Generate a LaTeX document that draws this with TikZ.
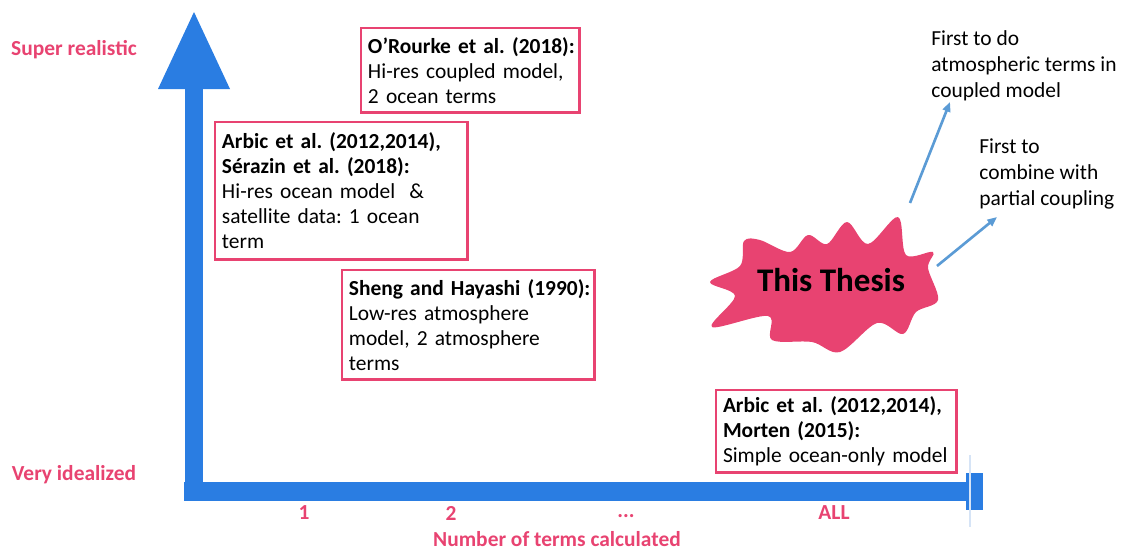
\documentclass[tikz,border=0pt]{standalone}
\usepackage{fontspec}
\setmainfont{Carlito}
\usepackage{xcolor}
\definecolor{thpink}{RGB}{232,67,113}
\definecolor{thblue}{RGB}{42,125,226}
\definecolor{thlightblue}{RGB}{91,155,213}
\definecolor{thfaint}{RGB}{214,228,246}
\usetikzlibrary{arrows.meta, positioning}

\newcommand{\boxfont}{\fontsize{12.2}{14.2}\selectfont}
\newcommand{\notefont}{\fontsize{12.2}{14.8}\selectfont}
\tikzset{
  refbox/.style={draw=thpink, line width=1.7pt, fill=white, anchor=north west,
    align=left, inner xsep=0.14cm, inner ysep=0pt, font=\boxfont,
    execute at begin node=\frenchspacing},
  axislabel/.style={text=thpink, font=\fontsize{12.2}{14}\selectfont\bfseries, inner sep=0pt},
  notetext/.style={anchor=north west, align=left, inner sep=0pt, font=\notefont},
  pointer/.style={-{Triangle[length=5.5pt,width=4.5pt]}, thlightblue, line width=1.5pt},
}

\begin{document}
\begin{tikzpicture}[x=0.02cm, y=-0.02cm]
  \useasboundingbox (0,0) rectangle (1129,551);

  % axes
  \fill[thblue] (185,89) rectangle (203,501);
  \fill[thblue] (158,89) -- (194,12) -- (230,89) -- cycle;
  \fill[thblue] (184,482) rectangle (968,501);
  \fill[thblue] (966,473) rectangle (983,510);
  \draw[thfaint, line width=0.8pt] (970,455) -- (970,527);

  \node[axislabel] (superreal) at (74,50) {Super realistic};
  \node[axislabel] (veryideal) at (74,475) {Very idealized};
  \node[axislabel] (tick1) at (304,513) {1};
  \node[axislabel] (tick2) at (451,513) {2};
  \node[axislabel] (tickdots) at (626,516) {...};
  \node[axislabel] (tickall) at (834,513) {ALL};
  \node[axislabel] (xtitle) at (557,539) {Number of terms calculated};

  % studies
  \node[refbox, text width=4.10cm, minimum height=1.70cm] (orourke) at (359.5,26.5)
    {\mbox{\textbf{O’Rourke et al. (2018):}}\\Hi-res coupled model,\\2 ocean terms};
  \node[refbox, text width=4.78cm, minimum height=2.76cm] (serazin) at (213.5,120.5)
    {\mbox{\textbf{Arbic et al. (2012,2014),}}\\\textbf{Sérazin et al. (2018):}\\Hi-res ocean model\ \ \&\\satellite data: 1 ocean\\term};
  \node[refbox, text width=4.78cm, minimum height=2.20cm] (sheng) at (340.5,268.5)
    {\mbox{\textbf{Sheng and Hayashi (1990):}}\\Low-res atmosphere\\model, 2 atmosphere\\terms};
  \node[refbox, text width=4.54cm, minimum height=1.66cm] (morten) at (714.5,388.5)
    {\mbox{\textbf{Arbic et al. (2012,2014),}}\\\textbf{Morten (2015):}\\\mbox{Simple ocean-only model}};

  % this thesis
  \fill[thpink] plot[smooth cycle, tension=0.55] coordinates {
    (710,282) (740,266) (744,241) (760,240) (790,252) (808,235) (827,244)
    (847,222) (868,244) (898,217) (906,255) (933,252) (928,268) (938,300)
    (916,312) (903,334) (877,323) (840,352) (812,342) (772,340) (768,316)
    (712,327) (735,296)};
  \node[font=\fontsize{18.8}{22}\selectfont\bfseries, inner sep=0pt] (thesis) at (831,280) {This Thesis};

  \node[notetext] (firstdo) at (931,30) {First to do\\atmospheric terms in\\coupled model};
  \node[notetext] (firstcomb) at (979,138) {First to\\combine with\\partial coupling};

  \coordinate (startdo) at (910,203);
  \coordinate (enddo) at (950,102);
  \coordinate (startcomb) at (937,266);
  \coordinate (endcomb) at (997,217);
  \draw[pointer] (startdo) -- (enddo);
  \draw[pointer] (startcomb) -- (endcomb);
\end{tikzpicture}
\end{document}
